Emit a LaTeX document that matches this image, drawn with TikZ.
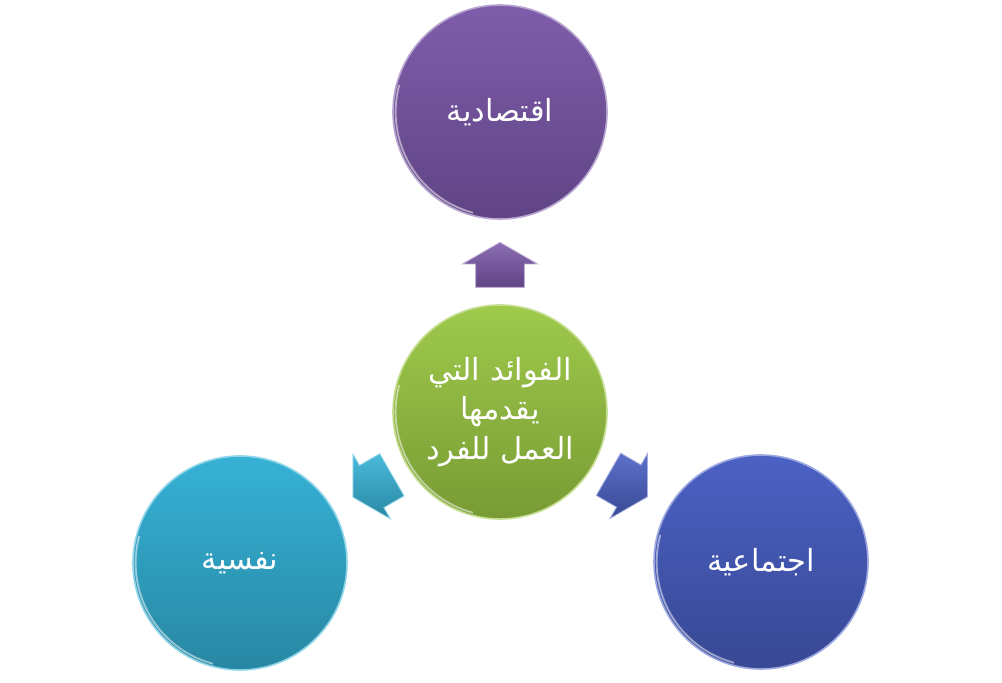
\documentclass[tikz,border=0pt]{standalone}
\usepackage{fontspec}
\usetikzlibrary{shapes.arrows,calc}
\TeXXeTstate=1
\newfontfamily\arabicfont[Script=Arabic]{DejaVu Sans}
\definecolor{HubTop}{HTML}{9FCA4C}
\definecolor{HubBottom}{HTML}{789B34}
\definecolor{EconTop}{HTML}{7E5DAA}
\definecolor{EconBottom}{HTML}{604485}
\definecolor{PsychTop}{HTML}{36B2D6}
\definecolor{PsychBottom}{HTML}{2887A3}
\definecolor{SocialTop}{HTML}{4B61C4}
\definecolor{SocialBottom}{HTML}{384894}
\tikzset{
  benefit text/.style={font=\arabicfont\fontsize{26}{34}\selectfont, text=white, align=center},
  benefit bubble/.style={circle, minimum size=6.42cm, inner sep=0pt, line width=1.4pt, benefit text,
    path picture={\draw[white, opacity=.5, line width=1.6pt]
      (path picture bounding box.center) ++(165:3.13cm) arc (165:255:3.13cm);}},
  benefit arrow/.style={single arrow, minimum height=1.35cm, minimum width=2.22cm,
    single arrow head extend=.39cm, single arrow tip angle=120,
    inner xsep=0pt, inner ysep=.72cm, line width=.7pt},
}
\begin{document}
\begin{tikzpicture}[x=.03cm,y=-.03cm]
  \useasboundingbox (0,0) rectangle (1002,683);

  % Hub and the three kinds of benefit round it.
  \node[benefit bubble, top color=HubTop, bottom color=HubBottom, draw=HubTop!60!white]
    (hub) at (500,412) {\beginR الفوائد التي\endR\\\beginR يقدمها\endR\\\beginR العمل للفرد\endR};
  \node[benefit bubble, top color=EconTop, bottom color=EconBottom, draw=EconTop!55!white]
    (econ) at (500,112) {\beginR اقتصادية\endR};
  \node[benefit bubble, top color=PsychTop, bottom color=PsychBottom, draw=PsychTop!55!white]
    (psych) at (240,563) {\beginR نفسية\endR};
  \node[benefit bubble, top color=SocialTop, bottom color=SocialBottom, draw=SocialTop!55!white]
    (social) at (761,562) {\beginR اجتماعية\endR};

  % Block arrows about half-way from the hub out to each bubble.
  \node[benefit arrow, rotate=90, top color=EconTop!90!white, bottom color=EconBottom, draw=EconTop!50!white]
    (toecon) at ($(hub)!.467!(econ)$) {};
  \node[benefit arrow, rotate=210, top color=PsychTop!90!white, bottom color=PsychBottom, draw=PsychTop!50!white]
    (topsych) at ($(hub)!.467!(psych)$) {};
  \node[benefit arrow, rotate=-30, top color=SocialTop!90!white, bottom color=SocialBottom, draw=SocialTop!50!white]
    (tosocial) at ($(hub)!.467!(social)$) {};
\end{tikzpicture}
\end{document}
